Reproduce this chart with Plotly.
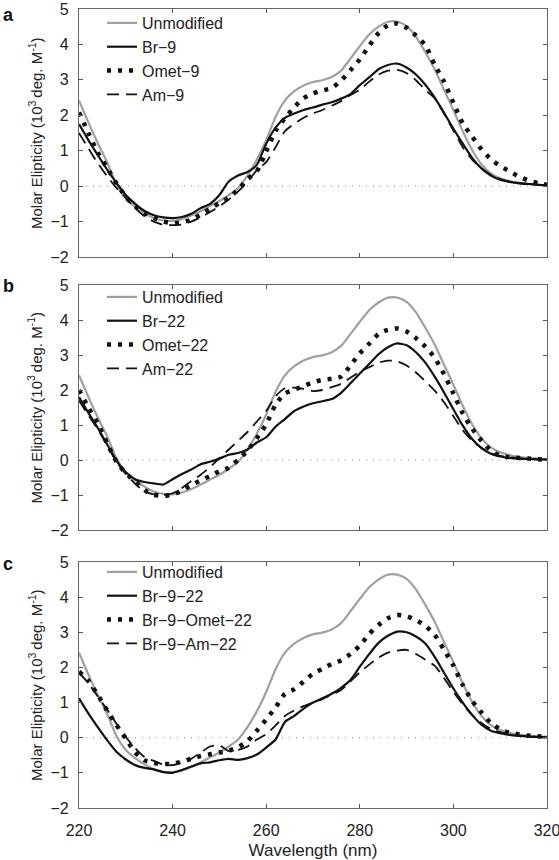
import plotly.graph_objects as go

wavelength = [220, 222, 224, 226, 228, 230, 232, 234, 236, 238, 240, 242, 244, 246, 248, 250,
              252, 254, 256, 258, 260, 262, 264, 266, 268, 270, 272, 274, 276, 278, 280, 282,
              284, 286, 288, 290, 292, 294, 296, 298, 300, 302, 304, 306, 308, 310, 312, 314,
              316, 318, 320]

unmodified = [2.42, 1.8, 1.22, 0.68, 0.05, -0.35, -0.58, -0.76, -0.9, -0.97, -0.98, -0.93, -0.83, -0.7, -0.56, -0.42,
              -0.25, -0.05, 0.3, 0.75, 1.3, 1.95, 2.42, 2.68, 2.84, 2.94, 2.99, 3.08, 3.26, 3.6, 3.95, 4.28,
              4.5, 4.64, 4.64, 4.52, 4.22, 3.78, 3.3, 2.72, 2.15, 1.55, 1.02, 0.62, 0.36, 0.22, 0.14, 0.09,
              0.06, 0.04, 0.03]

# panel a
br9 = [1.75, 1.3, 0.88, 0.47, 0.09, -0.25, -0.5, -0.7, -0.82, -0.88, -0.9, -0.87, -0.78, -0.62, -0.5, -0.25,
       0.13, 0.3, 0.4, 0.6, 1.2, 1.65, 1.93, 2.05, 2.15, 2.22, 2.3, 2.37, 2.47, 2.6, 2.85, 3.07,
       3.3, 3.42, 3.46, 3.35, 3.15, 2.86, 2.5, 2.07, 1.62, 1.2, 0.8, 0.5, 0.3, 0.18, 0.12, 0.08,
       0.06, 0.04, 0.03]
omet9 = [2.08, 1.5, 0.95, 0.52, 0.08, -0.3, -0.57, -0.76, -0.9, -1.0, -1.04, -1.02, -0.95, -0.8, -0.64, -0.48,
         -0.33, -0.1, 0.2, 0.42, 0.98, 1.56, 1.92, 2.23, 2.48, 2.62, 2.7, 2.77, 2.98, 3.27, 3.58, 3.96,
         4.32, 4.54, 4.59, 4.47, 4.25, 3.98, 3.42, 2.95, 2.35, 1.77, 1.4, 1.04, 0.76, 0.57, 0.42, 0.27,
         0.16, 0.09, 0.04]
am9 = [1.5, 1.07, 0.65, 0.28, -0.05, -0.33, -0.62, -0.85, -1.0, -1.09, -1.1, -1.08, -1.0, -0.88, -0.73, -0.57,
       -0.38, -0.15, 0.12, 0.45, 0.68, 1.1, 1.55, 1.76, 1.93, 2.05, 2.15, 2.27, 2.4, 2.57, 2.72, 2.95,
       3.15, 3.26, 3.28, 3.19, 2.99, 2.72, 2.48, 2.05, 1.57, 1.1, 0.75, 0.5, 0.32, 0.2, 0.13, 0.09,
       0.06, 0.04, 0.03]

# panel b
br22 = [1.8, 1.35, 0.92, 0.45, -0.02, -0.35, -0.55, -0.63, -0.67, -0.7, -0.55, -0.4, -0.27, -0.12, -0.05, 0.04,
        0.15, 0.2, 0.3, 0.5, 0.65, 0.95, 1.17, 1.4, 1.53, 1.62, 1.68, 1.74, 1.92, 2.19, 2.47, 2.74,
        3.02, 3.22, 3.33, 3.28, 3.08, 2.78, 2.38, 1.93, 1.45, 0.98, 0.6, 0.34, 0.18, 0.1, 0.06, 0.04,
        0.03, 0.02, 0.01]
omet22 = [2.0, 1.5, 1.05, 0.48, -0.05, -0.38, -0.62, -0.86, -0.99, -1.03, -0.99, -0.87, -0.72, -0.58, -0.46, -0.32,
          -0.22, 0.0, 0.27, 0.62, 1.02, 1.58, 1.9, 2.01, 2.11, 2.22, 2.29, 2.32, 2.38, 2.7, 3.05, 3.32,
          3.6, 3.72, 3.76, 3.67, 3.48, 3.24, 2.92, 2.45, 1.9, 1.33, 0.9, 0.55, 0.27, 0.12, 0.08, 0.06,
          0.04, 0.02, 0.01]
am22 = [1.7, 1.28, 0.88, 0.42, -0.05, -0.4, -0.68, -0.9, -0.98, -1.0, -0.95, -0.8, -0.6, -0.42, -0.2, 0.05,
        0.3, 0.55, 0.8, 1.1, 1.4, 1.82, 2.05, 2.07, 2.03, 1.97, 2.0, 2.08, 2.18, 2.35, 2.52, 2.65,
        2.78, 2.84, 2.82, 2.7, 2.5, 2.25, 1.98, 1.65, 1.25, 0.85, 0.55, 0.35, 0.2, 0.12, 0.08, 0.05,
        0.03, 0.02, 0.01]

# panel c
br9_22 = [1.12, 0.69, 0.3, -0.07, -0.4, -0.62, -0.78, -0.86, -0.9, -0.98, -1.0, -0.92, -0.82, -0.73, -0.7, -0.64,
          -0.6, -0.63, -0.58, -0.48, -0.28, -0.05, 0.45, 0.62, 0.83, 1.0, 1.12, 1.25, 1.42, 1.64, 2.02, 2.38,
          2.7, 2.9, 3.02, 3.0, 2.88, 2.68, 2.3, 1.85, 1.4, 1.0, 0.65, 0.37, 0.2, 0.13, 0.08, 0.05,
          0.03, 0.02, 0.01]
br9_omet22 = [1.88, 1.62, 1.22, 0.78, 0.36, -0.02, -0.42, -0.64, -0.72, -0.75, -0.74, -0.68, -0.6, -0.52, -0.47, -0.42,
              -0.37, -0.27, -0.1, 0.2, 0.52, 0.86, 1.25, 1.38, 1.6, 1.82, 1.96, 2.1, 2.2, 2.38, 2.62, 2.95,
              3.21, 3.4, 3.49, 3.46, 3.35, 3.18, 2.93, 2.5, 2.05, 1.5, 1.05, 0.72, 0.42, 0.24, 0.14, 0.1,
              0.06, 0.04, 0.02]
br9_am22 = [1.85, 1.55, 1.18, 0.8, 0.4, 0.02, -0.3, -0.55, -0.66, -0.77, -0.78, -0.7, -0.6, -0.42, -0.25, -0.22,
            -0.38, -0.35, -0.25, -0.05, 0.1, 0.35, 0.62, 0.78, 0.9, 1.0, 1.1, 1.22, 1.36, 1.6, 1.86, 2.08,
            2.28, 2.42, 2.48, 2.5, 2.38, 2.22, 2.05, 1.7, 1.3, 0.95, 0.65, 0.42, 0.25, 0.16, 0.1, 0.06,
            0.04, 0.02, 0.01]

panels = [
    ("a", [("Unmodified", unmodified), ("Br\u22129", br9), ("Omet\u22129", omet9), ("Am\u22129", am9)]),
    ("b", [("Unmodified", unmodified), ("Br\u221222", br22), ("Omet\u221222", omet22), ("Am\u221222", am22)]),
    ("c", [("Unmodified", unmodified), ("Br\u22129\u221222", br9_22), ("Br\u22129\u2212Omet\u221222", br9_omet22),
           ("Br\u22129\u2212Am\u221222", br9_am22)]),
]

W, H = 559, 860
x_left, x_right = 79, 547
panel_px = [(9, 257), (285, 530), (562, 808)]
styles = [
    dict(color="#a0a0a0", width=2.2, dash="solid"),
    dict(color="#111111", width=2.2, dash="solid"),
    dict(color="#111111", width=4.5, dash="4px,7px"),
    dict(color="#111111", width=1.8, dash="12px,7px"),
]
FONT = "Liberation Sans, Arial, sans-serif"

fig = go.Figure()
legend_top = [6, 280, 555]
for i, (label, series) in enumerate(panels):
    n = "" if i == 0 else str(i + 1)
    legname = "legend" + n
    for (name, vals), st in zip(series, styles):
        fig.add_trace(go.Scatter(
            x=wavelength, y=vals, name=name, mode="lines",
            line=dict(color=st["color"], width=st["width"], dash=st["dash"], shape="spline", smoothing=0.6),
            xaxis="x" + n, yaxis="y" + n, legend=legname,
        ))
    top, bot = panel_px[i]
    dom = [1 - bot / H, 1 - top / H]
    fig.update_layout({
        "xaxis" + n: dict(
            domain=[x_left / W, x_right / W], range=[220, 320], anchor="y" + n,
            tickvals=[220, 240, 260, 280, 300, 320], ticks="inside", ticklen=4,
            tickcolor="#555", showline=True, linecolor="#666", linewidth=1.2, mirror="ticks",
            showgrid=False, zeroline=False, showticklabels=(i == 2),
            ticklabeloverflow="allow", ticklabelstandoff=8, automargin=False,
            tickfont=dict(family=FONT, size=16, color="#222"),
            title=dict(text="Wavelength (nm)" if i == 2 else "", font=dict(family=FONT, size=17, color="#222"),
                       standoff=5),
        ),
        "yaxis" + n: dict(
            domain=dom, range=[-2, 5], anchor="x" + n,
            tickvals=[-2, -1, 0, 1, 2, 3, 4, 5], ticks="inside", ticklen=4,
            tickcolor="#555", showline=True, linecolor="#666", linewidth=1.2, mirror="ticks",
            showgrid=False, zeroline=False, ticklabelstandoff=6, automargin=False,
            tickfont=dict(family=FONT, size=16, color="#222"),
        ),
        legname: dict(
            x=102 / W, y=1 - legend_top[i] / H, xanchor="left", yanchor="top",
            bgcolor="rgba(0,0,0,0)", font=dict(family=FONT, size=16, color="#222"),
            tracegroupgap=0,
        ),
    })
    fig.add_shape(type="line", xref="x" + n, yref="y" + n, x0=220, x1=320, y0=0, y1=0,
                  line=dict(color="#888", width=1, dash="1px,6px"), layer="below")
    mid = (top + bot) / 2
    fig.add_annotation(
        x=35 / W, y=1 - mid / H, xref="paper", yref="paper", textangle=-90, showarrow=False,
        xanchor="center", yanchor="middle",
        text="Molar Elipticity (10<sup>3 </sup>deg. M<sup>-1</sup>)",
        font=dict(family=FONT, size=15, color="#222"),
    )
    label_y = [15, 286, 564][i]
    fig.add_annotation(
        x=8 / W, y=1 - label_y / H, xref="paper", yref="paper", showarrow=False,
        xanchor="center", yanchor="middle",
        text="<b>%s</b>" % label, font=dict(family=FONT, size=18, color="#111"),
    )

fig.update_layout(
    width=W, height=H, margin=dict(l=0, r=0, t=0, b=0, autoexpand=False),
    paper_bgcolor="white", plot_bgcolor="white", showlegend=True,
)

fig.write_html("out.html", config={"displayModeBar": False},
               post_script="document.body.style.margin='0';document.body.style.overflow='hidden';")
